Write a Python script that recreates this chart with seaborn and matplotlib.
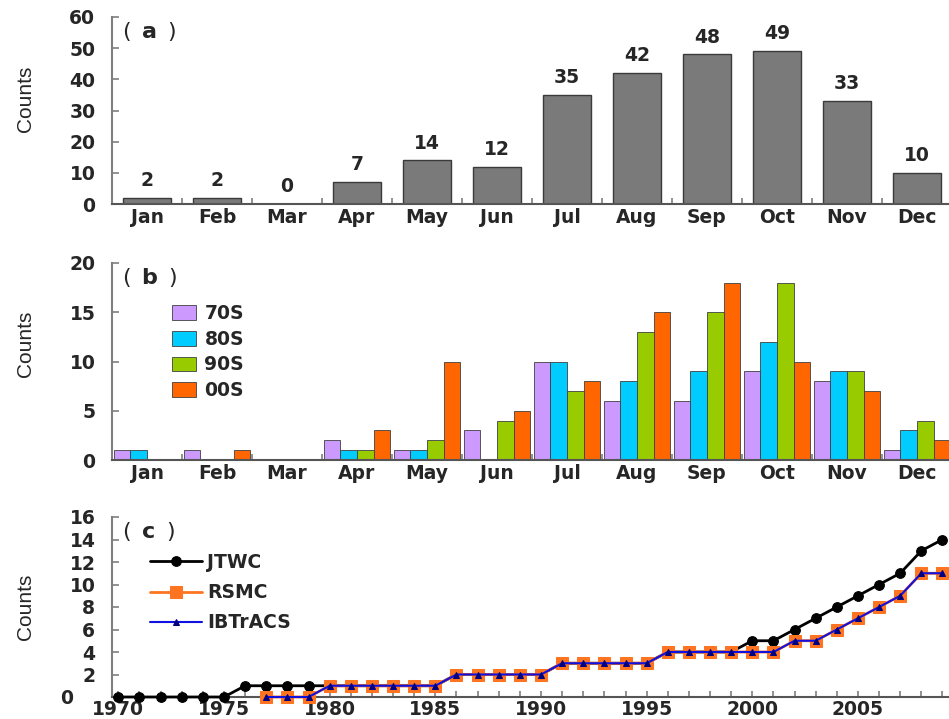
import numpy as np
import pandas as pd
import matplotlib
matplotlib.use("Agg")
import matplotlib.pyplot as plt
import seaborn as sns
from matplotlib.ticker import MultipleLocator, FixedLocator
from matplotlib.transforms import ScaledTranslation

sns.set_style("ticks")
plt.rcParams["font.family"] = ["DejaVu Sans"]
plt.rcParams["font.weight"] = "bold"

# (a) monthly totals
months = ["Jan", "Feb", "Mar", "Apr", "May", "Jun",
          "Jul", "Aug", "Sep", "Oct", "Nov", "Dec"]
total = [2, 2, 0, 7, 14, 12, 35, 42, 48, 49, 33, 10]

# (b) monthly counts per decade
decades = ["70S", "80S", "90S", "00S"]
c70 = [1, 1, 0, 2, 1, 3, 10, 6, 6, 9, 8, 1]
c80 = [1, 0, 0, 1, 1, 0, 10, 8, 9, 12, 9, 3]
c90 = [0, 0, 0, 1, 2, 4, 7, 13, 15, 18, 9, 4]
c00 = [0, 1, 0, 3, 10, 5, 8, 15, 18, 10, 7, 2]
dec_colors = ["#CC99FF", "#00CCFF", "#99CC00", "#FF6600"]

# (c) cumulative counts per agency
years = list(range(1970, 2010))
jtwc = [0, 0, 0, 0, 0, 0, 1, 1, 1, 1, 1, 1, 1, 1, 1, 1, 2, 2, 2, 2,
        2, 3, 3, 3, 3, 3, 4, 4, 4, 4, 5, 5, 6, 7, 8, 9, 10, 11, 13, 14]
years_b = list(range(1977, 2010))
rsmc = [0, 0, 0, 1, 1, 1, 1, 1, 1, 2, 2, 2, 2, 2, 3, 3, 3, 3, 3,
        4, 4, 4, 4, 4, 4, 5, 5, 6, 7, 8, 9, 11, 11]
ibtracs = [0, 0, 0, 1, 1, 1, 1, 1, 1, 2, 2, 2, 2, 2, 3, 3, 3, 3, 3,
           4, 4, 4, 4, 4, 4, 5, 5, 6, 7, 8, 9, 11, 11]

fig = plt.figure(figsize=(9.49, 7.19), dpi=100)
L, W = 112 / 949, 840 / 949
ax1 = fig.add_axes([L, 1 - 204 / 719, W, 187 / 719])
ax2 = fig.add_axes([L, 1 - 460 / 719, W, 197 / 719])
ax3 = fig.add_axes([L, 1 - 697 / 719, W, 180 / 719])

spine_col = "#7f7f7f"
fs = 13.5


def style_axis(ax, label_y):
    sns.despine(ax=ax)
    for s in ["left", "bottom"]:
        ax.spines[s].set_color(spine_col)
        ax.spines[s].set_linewidth(1.5)
    ax.spines["bottom"].set_color("#555555")
    ax.tick_params(axis="y", direction="in", length=5, width=1.2,
                   color=spine_col, labelsize=fs, pad=12)
    ax.tick_params(axis="x", which="both", direction="in", length=4,
                   width=1.2, color=spine_col, labelsize=fs, pad=3)
    ax.set_ylabel("Counts", family="Liberation Sans", fontweight="normal",
                  fontsize=15)
    ax.yaxis.set_label_coords(-0.092, label_y)
    ax.set_xlabel("")


def panel_tag(ax, letter):
    ax.text(0.012, 0.985, "(\u2002$\\mathbf{" + letter + "}$\u2002)",
            transform=ax.transAxes, ha="left", va="top", fontsize=16,
            fontweight="normal")


# panel a
df_a = pd.DataFrame({"month": months, "count": total})
sns.barplot(data=df_a, x="month", y="count", color="#7a7a7a", saturation=1,
            width=0.68, edgecolor="#3a3a3a", linewidth=1.0, ax=ax1)
for i, v in enumerate(total):
    ax1.text(i, v + 2.5, str(v), ha="center", va="bottom", fontsize=fs)
ax1.set_xlim(-0.5, 11.5)
ax1.set_ylim(0, 60)
ax1.yaxis.set_major_locator(MultipleLocator(10))
style_axis(ax1, 0.56)
ax1.tick_params(axis="x", which="major", length=0)
ax1.xaxis.set_minor_locator(FixedLocator(np.arange(0.5, 11, 1)))
panel_tag(ax1, "a")

# panel b
df_b = pd.DataFrame({
    "month": months * 4,
    "count": c70 + c80 + c90 + c00,
    "decade": [d for d in decades for _ in months],
})
sns.barplot(data=df_b, x="month", y="count", hue="decade", palette=dec_colors,
            saturation=1, width=0.95, edgecolor="#404040", linewidth=0.6,
            ax=ax2)
ax2.set_xlim(-0.5, 11.5)
ax2.set_ylim(0, 20)
ax2.yaxis.set_major_locator(MultipleLocator(5))
style_axis(ax2, 0.59)
ax2.tick_params(axis="x", which="major", length=0)
ax2.xaxis.set_minor_locator(FixedLocator(np.arange(0.5, 11, 1)))
ax2.legend(loc="upper left", bbox_to_anchor=(0.071, 0.79), frameon=False,
           fontsize=fs, handlelength=1.3, handleheight=0.85, handletextpad=0.45,
           labelspacing=0.35, borderaxespad=0, borderpad=0)
panel_tag(ax2, "b")

# panel c
sns.lineplot(x=years, y=jtwc, color="black", marker="o", markersize=7,
             markeredgecolor="black", linewidth=2, label="JTWC", ax=ax3,
             clip_on=False, zorder=3)
sns.lineplot(x=years_b, y=rsmc, color="#FF7420", marker="s", markersize=9,
             markeredgecolor="#FF7420", linewidth=2, label="RSMC", ax=ax3,
             clip_on=False, zorder=4)
sns.lineplot(x=years_b, y=ibtracs, color="#1010E0", marker="^", markersize=5,
             markeredgecolor="#000080", markerfacecolor="#000080",
             linewidth=1.5, label="IBTrACS", ax=ax3, clip_on=False, zorder=5)
ax3.set_xlim(1969.7, 2009.45)
ax3.set_ylim(0, 16)
ax3.yaxis.set_major_locator(FixedLocator(np.arange(0, 17, 2)))
ax3.xaxis.set_major_locator(MultipleLocator(5))
ax3.xaxis.set_minor_locator(MultipleLocator(1))
style_axis(ax3, 0.5)
ax3.tick_params(axis="x", pad=2)
ax3.legend(loc="upper left", bbox_to_anchor=(0.045, 0.80), frameon=False,
           fontsize=fs, handlelength=2.8, handletextpad=0.25,
           labelspacing=0.6, borderaxespad=0, borderpad=0)
panel_tag(ax3, "c")

# the "0" of panel c sits further left, clear of the "1970" label
fig.canvas.draw()
for tick in ax3.yaxis.get_major_ticks():
    if tick.get_loc() == 0:
        lab = tick.label1
        lab.set_transform(lab.get_transform()
                          + ScaledTranslation(-0.22, 0, fig.dpi_scale_trans))

fig.savefig("out.png", dpi=100)
